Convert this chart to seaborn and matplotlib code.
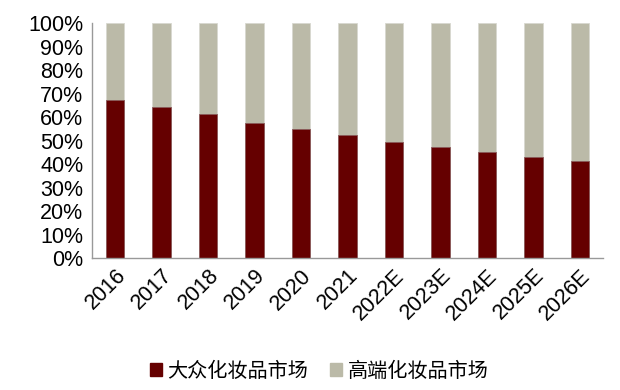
import numpy as np
import pandas as pd
import matplotlib
matplotlib.use('Agg')
import matplotlib.pyplot as plt
import seaborn as sns
from matplotlib.patches import Patch
from matplotlib.ticker import FixedLocator, PercentFormatter

years = ['2016', '2017', '2018', '2019', '2020', '2021',
         '2022E', '2023E', '2024E', '2025E', '2026E']
mass_share = [67.2, 64.3, 61.3, 57.6, 54.9, 52.2, 49.6, 47.2, 45.1, 43.1, 41.4]
premium_share = [100 - v for v in mass_share]

mass_label = '大众化妆品市场'
premium_label = '高端化妆品市场'
mass_color = '#650000'
premium_color = '#BBBAA8'

df = pd.DataFrame({'year': years, 'mass': mass_share, 'premium': premium_share})
df['total'] = df['mass'] + df['premium']

sns.set_style('white')
plt.rcParams['font.family'] = ['Liberation Sans', 'Noto Sans CJK SC', 'DejaVu Sans']
plt.rcParams['text.color'] = 'black'
plt.rcParams['xtick.labelcolor'] = 'black'
plt.rcParams['ytick.labelcolor'] = 'black'

fig, ax = plt.subplots(figsize=(6.2, 3.9), dpi=100)

# stacked: draw total in gray, then mass share on top of it
sns.barplot(data=df, x='year', y='total', color=premium_color, width=0.4,
            edgecolor='#d8d8d0', linewidth=0.6, saturation=1, ax=ax)
sns.barplot(data=df, x='year', y='mass', color=mass_color, width=0.4,
            edgecolor='#8a5a5a', linewidth=0.6, saturation=1, ax=ax)

ax.set_ylim(0, 100)
ax.set_xlim(-0.5, len(years) - 0.5)
ax.set_yticks(np.arange(0, 101, 10))
ax.yaxis.set_major_formatter(PercentFormatter(decimals=0))
ax.set_xlabel('')
ax.set_ylabel('')

ax.tick_params(axis='y', length=0, labelsize=15.5, pad=6, labelcolor='black')
ax.tick_params(axis='x', which='major', length=0, labelsize=15.5, pad=5, labelcolor='black')
ax.xaxis.set_minor_locator(FixedLocator(np.arange(-0.5, len(years), 1)))
ax.tick_params(axis='x', which='minor', length=5, color='#999999', direction='out')
plt.setp(ax.get_xticklabels(), rotation=45, ha='right', rotation_mode='anchor')

for side in ['top', 'right']:
    ax.spines[side].set_visible(False)
for side in ['left', 'bottom']:
    ax.spines[side].set_color('#999999')
    ax.spines[side].set_linewidth(1)

handles = [Patch(color=mass_color, label=mass_label),
           Patch(color=premium_color, label=premium_label)]
fig.legend(handles=handles, loc='lower center', ncol=2, frameon=False,
           bbox_to_anchor=(0.515, -0.025), handlelength=0.6,
           handleheight=0.6, handletextpad=0.25, columnspacing=1.1,
           labelcolor='black',
           prop={'family': ['Noto Sans CJK SC', 'DejaVu Sans'], 'size': 14.5})

fig.subplots_adjust(left=0.148, right=0.973, top=0.941, bottom=0.338)
plt.savefig('out.png', dpi=100)
